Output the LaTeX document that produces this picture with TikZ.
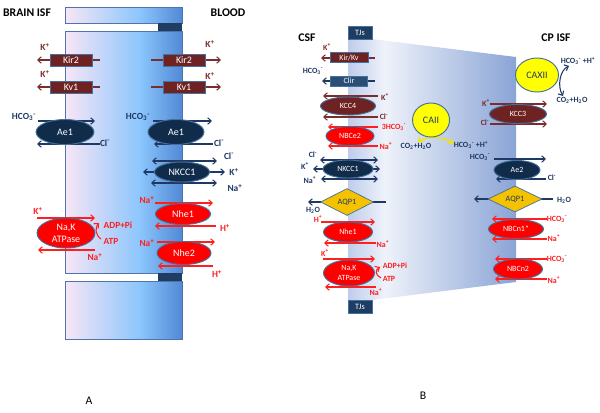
\documentclass[tikz,border=0pt]{standalone}
\usepackage{fontspec}
\setmainfont{Carlito}
\usepackage{tikz}
\usetikzlibrary{shapes.geometric,arrows.meta}

\definecolor{maroon}{HTML}{6E2222}
\definecolor{maroonln}{HTML}{7B2C2C}
\definecolor{navy}{HTML}{112B4A}
\definecolor{navyln}{HTML}{1F3864}
\definecolor{redfill}{HTML}{FF0000}
\definecolor{redln}{HTML}{FF1F1F}
\definecolor{rimblue}{HTML}{41719C}
\definecolor{tjblue}{HTML}{1F3D63}
\definecolor{clirblue}{HTML}{2C4D74}
\definecolor{aqpgold}{HTML}{F5C200}
\definecolor{caiiyel}{HTML}{FFFF00}
\definecolor{arcyel}{HTML}{F2E600}
\definecolor{pinkA}{HTML}{F8E6F6}
\definecolor{skyA}{HTML}{8CC6FC}
\definecolor{deepA}{HTML}{5189D6}
\definecolor{paleB}{HTML}{BFCDEB}
\definecolor{whiteB}{HTML}{EEF2FA}
\definecolor{deepB}{HTML}{8AA4D6}
\definecolor{memedge}{HTML}{4F74A8}

\pgfdeclarehorizontalshading{isfblood}{100bp}{color(0bp)=(pinkA); color(25bp)=(pinkA); color(57bp)=(skyA); color(75bp)=(deepA); color(100bp)=(deepA)}
\pgfdeclarehorizontalshading{csfisf}{100bp}{color(0bp)=(paleB); color(25bp)=(paleB); color(36bp)=(whiteB); color(75bp)=(deepB); color(100bp)=(deepB)}

\newcommand{\ionK}{K\textsuperscript{+}}
\newcommand{\ionNa}{Na\textsuperscript{+}}
\newcommand{\ionH}{H\textsuperscript{+}}
\newcommand{\ionCl}{Cl\textsuperscript{-}}
\newcommand{\ionHCO}{HCO\textsubscript{3}\textsuperscript{-}}
\newcommand{\molwater}{H\textsubscript{2}O}
\newcommand{\molco}{CO\textsubscript{2}+H\textsubscript{2}O}

\tikzset{
  lbl/.style={inner sep=0pt, font=\bfseries\fontsize{8}{9}\selectfont},
  sml/.style={inner sep=0pt, font=\bfseries\fontsize{6.8}{7}\selectfont},
  side/.style={inner sep=0pt, font=\bfseries\fontsize{10}{11}\selectfont},
  chan/.style={rectangle, draw=rimblue, line width=0.6pt, fill=maroon, text=white, inner sep=0pt, font=\fontsize{8.5}{9}\selectfont},
  carrier/.style={ellipse, draw=rimblue, line width=0.8pt, text=white, inner sep=0pt, font=\fontsize{8.5}{9}\selectfont},
  pore/.style={diamond, draw=rimblue, line width=0.6pt, fill=aqpgold, text=navyln, inner sep=0pt, font=\fontsize{7}{7}\selectfont},
  flux/.style={line width=0.9pt, -{Straight Barb[length=3pt,width=5.5pt]}},
  biflux/.style={line width=0.9pt, {Straight Barb[length=3pt,width=5.5pt]}-{Straight Barb[length=3pt,width=5.5pt]}}
}

\begin{document}
\begin{tikzpicture}[x=0.03cm,y=-0.03cm]
\useasboundingbox (0,0) rectangle (600,412);

% panel A: endothelial cell
\shadedraw[shading=isfblood, draw=memedge, line width=0.6pt] (65,7) rectangle (182,23);
\fill[tjblue] (158,23) rectangle (182,31);
\shadedraw[shading=isfblood, draw=memedge, line width=0.6pt] (65,31) rectangle (182,273);
\fill[tjblue] (158,273) rectangle (182,281);
\shadedraw[shading=isfblood, draw=memedge, line width=0.6pt] (65,281) rectangle (182,339);

% panel B: choroid plexus epithelium
\shade[shading=csfisf] (348,39) -- (372,39) -- (516,57) -- (516,282) -- (372,300) -- (348,300) -- cycle;

% fluxes A
\coordinate (kirLin) at (100,60);  \coordinate (kirLout) at (37,60);
\coordinate (kvLin) at (100,87);   \coordinate (kvLout) at (37,87);
\coordinate (kirRin) at (151,60);  \coordinate (kirRout) at (221,60);
\coordinate (kvRin) at (151,87);   \coordinate (kvRout) at (221,87);
\draw[flux, maroonln] (kirLin) -- (kirLout);
\draw[flux, maroonln] (kvLin) -- (kvLout);
\draw[flux, maroonln] (kirRin) -- (kirRout);
\draw[flux, maroonln] (kvRin) -- (kvRout);

\coordinate (aeLa) at (38,121);  \coordinate (aeLb) at (95,121);
\coordinate (aeLc) at (100,144); \coordinate (aeLd) at (37,144);
\coordinate (aeRa) at (153,121); \coordinate (aeRb) at (212,121);
\coordinate (aeRc) at (213,144); \coordinate (aeRd) at (154,144);
\draw[flux, navyln] (aeLa) -- (aeLb);
\draw[flux, navyln] (aeLc) -- (aeLd);
\draw[flux, navyln] (aeRa) -- (aeRb);
\draw[flux, navyln] (aeRc) -- (aeRd);

\coordinate (nkA1) at (152,161); \coordinate (nkA2) at (217,161);
\coordinate (nkA3) at (143,172); \coordinate (nkA4) at (225,172);
\coordinate (nkA5) at (151,183); \coordinate (nkA6) at (217,183);
\draw[biflux, navyln] (nkA1) -- (nkA2);
\draw[biflux, navyln] (nkA3) -- (nkA4);
\draw[biflux, navyln] (nkA5) -- (nkA6);

\coordinate (nheA1) at (155,203); \coordinate (nheA2) at (213,203);
\coordinate (nheA3) at (216,226); \coordinate (nheA4) at (155,226);
\coordinate (nheA5) at (157,242); \coordinate (nheA6) at (215,242);
\coordinate (nheA7) at (213,266); \coordinate (nheA8) at (158,266);
\draw[flux, redln] (nheA1) -- (nheA2);
\draw[flux, redln] (nheA3) -- (nheA4);
\draw[flux, redln] (nheA5) -- (nheA6);
\draw[flux, redln] (nheA7) -- (nheA8);

\coordinate (pumpA1) at (37,218); \coordinate (pumpA2) at (95,218);
\coordinate (pumpA3) at (95,250); \coordinate (pumpA4) at (38,250);
\coordinate (atpA) at (101,239);  \coordinate (adpA) at (99,223);
\draw[flux, redln] (pumpA1) -- (pumpA2);
\draw[flux, redln] (pumpA3) -- (pumpA4);
\draw[flux, redln] (atpA) .. controls (95,235) and (95,227) .. (adpA);

% fluxes B
\coordinate (kirB1) at (375,58); \coordinate (kirB2) at (321,58);
\coordinate (clirB1) at (375,81); \coordinate (clirB2) at (322,81);
\draw[flux, maroonln] (kirB1) -- (kirB2);
\draw[flux, navyln] (clirB1) -- (clirB2);

\coordinate (kcc4a) at (378,96);  \coordinate (kcc4b) at (323,96);
\coordinate (kcc4c) at (378,117); \coordinate (kcc4d) at (323,117);
\draw[flux, maroonln] (kcc4a) -- (kcc4b);
\draw[flux, maroonln] (kcc4c) -- (kcc4d);

\coordinate (nbce2a) at (378,127); \coordinate (nbce2b) at (328,127);
\coordinate (nbce2c) at (378,146); \coordinate (nbce2d) at (328,146);
\draw[flux, redln] (nbce2a) -- (nbce2b);
\draw[flux, redln] (nbce2c) -- (nbce2d);

\coordinate (nkB1) at (320,160); \coordinate (nkB2) at (378,160);
\coordinate (nkB3) at (313,169); \coordinate (nkB4) at (380,169);
\coordinate (nkB5) at (321,179); \coordinate (nkB6) at (378,179);
\draw[biflux, navyln] (nkB1) -- (nkB2);
\draw[biflux, navyln] (nkB3) -- (nkB4);
\draw[biflux, navyln] (nkB5) -- (nkB6);

\coordinate (aqpB1) at (386,202); \coordinate (aqpB2) at (308,202);
\draw[flux, navyln] (aqpB1) -- (aqpB2);

\coordinate (nheB1) at (321,222); \coordinate (nheB2) at (375,222);
\coordinate (nheB3) at (376,243); \coordinate (nheB4) at (324,243);
\draw[flux, redln] (nheB1) -- (nheB2);
\draw[flux, redln] (nheB3) -- (nheB4);

\coordinate (pumpB1) at (323,259); \coordinate (pumpB2) at (375,259);
\coordinate (pumpB3) at (376,287); \coordinate (pumpB4) at (325,287);
\coordinate (atpB) at (381,278);   \coordinate (adpB) at (380,267);
\draw[flux, redln] (pumpB1) -- (pumpB2);
\draw[flux, redln] (pumpB3) -- (pumpB4);
\draw[flux, redln] (atpB) .. controls (375,275) and (375,270) .. (adpB);

\coordinate (caL) at (418,142); \coordinate (caR) at (453,144);
\draw[biflux, arcyel, line width=1.1pt] (caL) .. controls (426,136) and (445,136) .. (caR);
\coordinate (caxT) at (569,66); \coordinate (caxB) at (563,96);
\draw[biflux, navyln] (caxT) .. controls (560,70) and (557,86) .. (caxB);

\coordinate (kcc3a) at (490,104); \coordinate (kcc3b) at (547,104);
\coordinate (kcc3c) at (490,124); \coordinate (kcc3d) at (547,124);
\draw[flux, maroonln] (kcc3a) -- (kcc3b);
\draw[flux, maroonln] (kcc3c) -- (kcc3d);

\coordinate (ae2a) at (494,159); \coordinate (ae2b) at (546,159);
\coordinate (ae2c) at (546,179); \coordinate (ae2d) at (496,179);
\draw[flux, navyln] (ae2a) -- (ae2b);
\draw[flux, navyln] (ae2c) -- (ae2d);

\coordinate (aqpR1) at (553,199); \coordinate (aqpR2) at (474,199);
\draw[flux, navyln] (aqpR1) -- (aqpR2);

\coordinate (nbcn1a) at (547,219); \coordinate (nbcn1b) at (492,219);
\coordinate (nbcn1c) at (547,239); \coordinate (nbcn1d) at (492,239);
\coordinate (nbcn2a) at (547,259); \coordinate (nbcn2b) at (495,259);
\coordinate (nbcn2c) at (547,279); \coordinate (nbcn2d) at (495,279);
\draw[flux, redln] (nbcn1a) -- (nbcn1b);
\draw[flux, redln] (nbcn1c) -- (nbcn1d);
\draw[flux, redln] (nbcn2a) -- (nbcn2b);
\draw[flux, redln] (nbcn2c) -- (nbcn2d);

% transporters A
\node[chan, minimum width=1.26cm, minimum height=0.36cm] (kirL) at (71,60) {Kir2};
\node[chan, minimum width=1.26cm, minimum height=0.36cm] (kvL) at (71,87) {Kv1};
\node[chan, minimum width=1.26cm, minimum height=0.36cm] (kirR) at (184,60) {Kir2};
\node[chan, minimum width=1.26cm, minimum height=0.36cm] (kvR) at (184,87) {Kv1};
\node[carrier, fill=navy, minimum width=1.74cm, minimum height=0.75cm] (aeL) at (65,132) {Ae1};
\node[carrier, fill=navy, minimum width=1.68cm, minimum height=0.75cm] (aeR) at (176,132) {Ae1};
\node[carrier, fill=navy, minimum width=1.65cm, minimum height=0.6cm] (nkccA) at (182,172) {NKCC1};
\node[carrier, fill=redfill, minimum width=1.65cm, minimum height=0.63cm] (nhe1A) at (183,214) {Nhe1};
\node[carrier, fill=redfill, minimum width=1.62cm, minimum height=0.69cm] (nhe2A) at (184,253) {Nhe2};
\node[carrier, fill=redfill, minimum width=1.74cm, minimum height=0.9cm, align=center] (pumpA) at (66,233) {Na,K\\[1pt]ATPase};

% labels A
\node[side] (brain) at (27,13) {BRAIN ISF};
\node[side] (blood) at (228,13) {BLOOD};
\node[lbl, maroonln] (kirLk) at (45,47) {\ionK};
\node[lbl, maroonln] (kvLk) at (45,74) {\ionK};
\node[lbl, maroonln] (kirRk) at (210,44) {\ionK};
\node[lbl, maroonln] (kvRk) at (210,76) {\ionK};
\node[lbl, navyln] (aeLh) at (24,117) {\ionHCO};
\node[lbl, navyln] (aeLc) at (105,143) {\ionCl};
\node[lbl, navyln] (aeRh) at (138,117) {\ionHCO};
\node[lbl, navyln] (aeRc) at (219,143) {\ionCl};
\node[lbl, navyln] (nkAc) at (229,156) {\ionCl};
\node[lbl, navyln] (nkAk) at (234,172) {\ionK};
\node[lbl, navyln] (nkAn) at (235,188) {\ionNa};
\node[lbl, redln] (nhe1An) at (147,200) {\ionNa};
\node[lbl, redln] (nhe1Ah) at (225,228) {\ionH};
\node[lbl, redln] (nhe2An) at (147,243) {\ionNa};
\node[lbl, redln] (nhe2Ah) at (217,274) {\ionH};
\node[lbl, redln] (pumpAk) at (38,211) {\ionK};
\node[lbl, redln] (pumpAn) at (95,257) {\ionNa};
\node[lbl, redln] (adpAl) at (118,225) {ADP+Pi};
\node[lbl, redln] (atpAl) at (111,241) {ATP};
\node[font=\fontsize{10}{12}\selectfont] (tagA) at (89,401) {A};

% transporters B
\node[chan, fill=tjblue, minimum width=0.72cm, minimum height=0.39cm, font=\fontsize{7}{8}\selectfont] (tjTop) at (360,32.5) {TJs};
\node[chan, fill=tjblue, minimum width=0.72cm, minimum height=0.39cm, font=\fontsize{7}{8}\selectfont] (tjBot) at (360,306.5) {TJs};
\node[chan, minimum width=1.14cm, minimum height=0.3cm, font=\fontsize{6.8}{7}\selectfont] (kirB) at (349,57.5) {Kir/Kv};
\node[chan, fill=clirblue, minimum width=1.11cm, minimum height=0.3cm, font=\fontsize{6.8}{7}\selectfont] (clirB) at (349,81) {Clir};
\node[carrier, fill=maroon, minimum width=1.65cm, minimum height=0.54cm, font=\fontsize{6.8}{7}\selectfont] (kcc4) at (348,106) {KCC4};
\node[carrier, fill=redfill, minimum width=1.44cm, minimum height=0.57cm, font=\fontsize{6.8}{7}\selectfont] (nbce2) at (350,136) {NBCe2};
\node[carrier, fill=navy, minimum width=1.5cm, minimum height=0.54cm, font=\fontsize{6.8}{7}\selectfont] (nkccB) at (348,169) {NKCC1};
\node[pore, minimum width=1.59cm, minimum height=0.81cm] (aqpB) at (347,202) {AQP1};
\node[carrier, fill=redfill, minimum width=1.47cm, minimum height=0.6cm, font=\fontsize{6.8}{7}\selectfont] (nheB) at (348,232) {Nhe1};
\node[carrier, fill=redfill, minimum width=1.53cm, minimum height=0.78cm, align=center, font=\fontsize{6.8}{7}\selectfont] (pumpB) at (349,273) {Na,K\\[1pt]ATPase};
\node[carrier, fill=caiiyel, text=navyln, minimum width=1.11cm, minimum height=1.02cm] (caii) at (431,120) {CAII};
\node[carrier, fill=caiiyel, text=navyln, minimum width=1.29cm, minimum height=1.02cm] (caxii) at (537,75) {CAXII};
\node[carrier, fill=maroon, minimum width=1.71cm, minimum height=0.57cm, font=\fontsize{6.8}{7}\selectfont] (kcc3) at (518,114) {KCC3};
\node[carrier, fill=navy, minimum width=1.38cm, minimum height=0.57cm, font=\fontsize{6.8}{7}\selectfont] (ae2) at (517,170) {Ae2};
\node[pore, minimum width=1.62cm, minimum height=0.78cm] (aqpR) at (515,199) {AQP1};
\node[carrier, fill=redfill, minimum width=1.65cm, minimum height=0.57cm, font=\fontsize{6.8}{7}\selectfont] (nbcn1) at (516,229) {NBCn1*};
\node[carrier, fill=redfill, minimum width=1.47cm, minimum height=0.6cm, font=\fontsize{6.8}{7}\selectfont] (nbcn2) at (518,269) {NBCn2};

% labels B
\node[side] (csf) at (307,38) {CSF};
\node[side] (cpisf) at (556,38) {CP ISF};
\node[sml, maroonln] (kirBk) at (327,47) {\ionK};
\node[sml, navyln] (clirBh) at (313,71) {\ionHCO};
\node[sml, maroonln] (kcc4k) at (385,97) {\ionK};
\node[sml, maroonln] (kcc4c) at (384,117) {\ionCl};
\node[sml, redln] (nbce2h) at (394,127) {3\ionHCO};
\node[sml, redln] (nbce2n) at (386,146) {\ionNa};
\node[sml, navyln] (nkBc) at (313,155) {\ionCl};
\node[sml, navyln] (nkBk) at (305,166) {\ionK};
\node[sml, navyln] (nkBn) at (310,180) {\ionNa};
\node[sml, navyln] (aqpBw) at (313,210) {\molwater};
\node[sml, redln] (nheBh) at (318,219) {\ionH};
\node[sml, redln] (nheBn) at (383,244) {\ionNa};
\node[sml, redln] (pumpBk) at (325,253) {\ionK};
\node[sml, redln] (pumpBn) at (376,292) {\ionNa};
\node[sml, redln] (adpBl) at (395,266) {ADP+Pi};
\node[sml, redln] (atpBl) at (389,279) {ATP};
\node[sml, navyln] (caiiL) at (416,146) {\molco};
\node[sml, navyln] (caiiR) at (471,145) {\ionHCO\ +\ionH};
\node[sml, navyln] (caxiiT) at (578,61) {\ionHCO\ +\ionH};
\node[sml, navyln] (caxiiB) at (572,100) {\molco};
\node[sml, maroonln] (kcc3k) at (486,103) {\ionK};
\node[sml, maroonln] (kcc3c) at (485,123) {\ionCl};
\node[sml, navyln] (ae2h) at (480,157) {\ionHCO};
\node[sml, navyln] (ae2c) at (552,178) {\ionCl};
\node[sml, navyln] (aqpRw) at (564,200) {\molwater};
\node[sml, redln] (nbcn1h) at (557,219) {\ionHCO};
\node[sml, redln] (nbcn1n) at (554,238) {\ionNa};
\node[sml, redln] (nbcn2h) at (557,259) {\ionHCO};
\node[sml, redln] (nbcn2n) at (554,280) {\ionNa};
\node[font=\fontsize{10}{12}\selectfont] (tagB) at (423,396) {B};

\end{tikzpicture}
\end{document}
